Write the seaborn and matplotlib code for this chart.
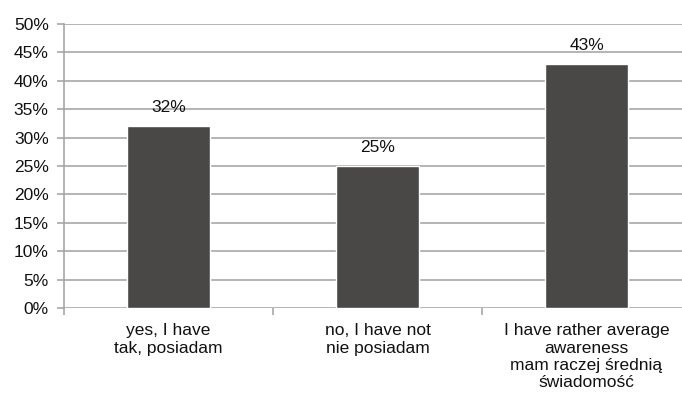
import matplotlib
matplotlib.use("Agg")
import matplotlib.pyplot as plt
import seaborn as sns
import pandas as pd
from matplotlib.ticker import FixedLocator, FuncFormatter

categories = [
    "yes, I have\ntak, posiadam",
    "no, I have not\nnie posiadam",
    "I have rather average\nawareness\nmam raczej średnią\nświadomość",
]
values = [32, 25, 43]
y_ticks = [0, 5, 10, 15, 20, 25, 30, 35, 40, 45, 50]

sns.set_theme(style="white")
plt.rcParams["font.family"] = ["Liberation Sans", "DejaVu Sans"]

df = pd.DataFrame({"category": categories, "value": values})

fig = plt.figure(figsize=(6.82, 4.07), dpi=100)
ax = fig.add_axes([64 / 682, 99 / 407, 627 / 682, 284 / 407])

grid_color = "#a0a0a0"
text_color = "#111111"
fs = 12.5
ax.set_axisbelow(True)
for t in y_ticks:
    ax.axhline(t, color=grid_color, lw=1.1, zorder=0)

sns.barplot(data=df, x="category", y="value", color="#4a4846",
            saturation=1, width=0.40, ax=ax, zorder=2)

for i, v in enumerate(values):
    ax.text(i, v + 1.9, f"{v}%", ha="center", va="bottom",
            fontsize=fs, color=text_color)

ax.set_xlim(-0.5, 2.5)
ax.set_ylim(0, 50)
ax.set_yticks(y_ticks)
ax.yaxis.set_major_formatter(FuncFormatter(lambda v, p: f"{int(v)}%"))
ax.set_xlabel("")
ax.set_ylabel("")

for s in ["top", "right", "bottom"]:
    ax.spines[s].set_visible(False)
ax.spines["left"].set_color(grid_color)
ax.spines["left"].set_linewidth(1.1)

ax.tick_params(axis="y", direction="out", length=5, width=1.1,
               color=grid_color, labelsize=fs, labelcolor=text_color, pad=6,
               left=True)
ax.tick_params(axis="x", which="major", length=0, labelsize=fs,
               labelcolor=text_color, pad=11)
ax.xaxis.set_minor_locator(FixedLocator([-0.5, 0.5, 1.5, 2.5]))
ax.tick_params(axis="x", which="minor", direction="out", length=5,
               width=1.1, color=grid_color, bottom=True)
for lbl in ax.get_xticklabels():
    lbl.set_linespacing(1.2)
    lbl.set_ha("center")

fig.savefig("out.png", dpi=100)
